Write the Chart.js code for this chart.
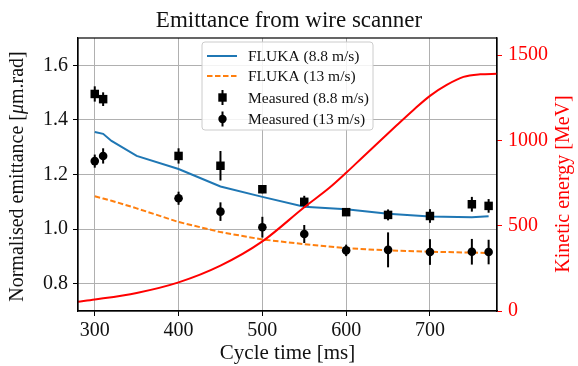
<!DOCTYPE html>
<html><head><meta charset="utf-8">
<script src="https://cdn.jsdelivr.net/npm/chart.js@4/dist/chart.umd.min.js"></script>
<style>html,body{margin:0;padding:0;background:#fff}</style>
</head><body>
<canvas id="c" width="578" height="366"></canvas>
<script>
// ---- data ----
const measTime = [300, 310, 400, 450, 500, 550, 600, 650, 700, 750, 770];
const meas88 = [1.495, 1.476, 1.268, 1.232, 1.146, 1.100, 1.062, 1.052, 1.048, 1.091, 1.085];
const err88  = [0.028, 0.025, 0.028, 0.054, 0.015, 0.022, 0.012, 0.020, 0.025, 0.027, 0.025];
const meas13 = [1.249, 1.268, 1.113, 1.064, 1.007, 0.982, 0.922, 0.924, 0.916, 0.917, 0.916];
const err13  = [0.024, 0.028, 0.024, 0.034, 0.038, 0.033, 0.021, 0.064, 0.047, 0.047, 0.045];

const flukaTime = [300, 310, 320, 350, 400, 450, 500, 550, 600, 650, 700, 750, 770];
const fluka88 = [1.356, 1.349, 1.323, 1.268, 1.220, 1.156, 1.118, 1.082, 1.073, 1.056, 1.046, 1.043, 1.047];
const fluka13 = [1.120, 1.112, 1.104, 1.076, 1.026, 0.989, 0.962, 0.945, 0.930, 0.922, 0.917, 0.914, 0.912];

const energyTime = [280, 300, 350, 400, 450, 500, 550, 580, 600, 620, 640, 660, 680, 700, 720, 740, 760, 780];
const energyMeV  = [54, 67, 106, 168, 266, 408, 608, 722, 810, 903, 995, 1087, 1177, 1261, 1325, 1372, 1387, 1390];

const xTicks = [300, 400, 500, 600, 700];
const yTicks = [0.8, 1.0, 1.2, 1.4, 1.6];
const y2Ticks = [0, 500, 1000, 1500];

const SERIF = '"Liberation Serif", "Times New Roman", serif';
const pts = (xs, ys) => xs.map((x, i) => ({x: x, y: ys[i]}));

const errs = {m88: err88, m13: err13};

const plugin = {
  id: 'custom',
  beforeDatasetDraw(chart, args) {
    const ds = chart.data.datasets[args.index];
    if (!ds.errKey) return;
    const e = errs[ds.errKey];
    const ctx = chart.ctx, xs = chart.scales.x, ys = chart.scales.y;
    ctx.save();
    ctx.strokeStyle = '#000';
    ctx.lineWidth = 2;
    ds.data.forEach((p, i) => {
      const px = xs.getPixelForValue(p.x);
      ctx.beginPath();
      ctx.moveTo(px, ys.getPixelForValue(p.y - e[i]));
      ctx.lineTo(px, ys.getPixelForValue(p.y + e[i]));
      ctx.stroke();
    });
    ctx.restore();
  },
  afterDraw(chart) {
    const ctx = chart.ctx, a = chart.chartArea;
    ctx.save();
    // frame
    ctx.strokeStyle = '#000';
    ctx.lineWidth = 1.2;
    ctx.strokeRect(a.left, a.top, a.right - a.left, a.bottom - a.top);

    // axis titles
    ctx.fillStyle = '#111';
    ctx.textBaseline = 'middle';
    ctx.font = '21px ' + SERIF;
    ctx.textAlign = 'center';
    ctx.fillText('Cycle time [ms]', (a.left + a.right) / 2, 353);

    // left title with italic mu
    const parts = [['Normalised emittance [', ''], ['\u03bc', 'italic '], ['m.rad]', '']];
    let total = 0;
    parts.forEach(p => { ctx.font = p[1] + '20px ' + SERIF; p.w = ctx.measureText(p[0]).width; total += p.w; });
    ctx.save();
    ctx.translate(18, (a.top + a.bottom) / 2 + 2);
    ctx.rotate(-Math.PI / 2);
    ctx.textAlign = 'left';
    let cx = -total / 2;
    parts.forEach(p => { ctx.font = p[1] + '20px ' + SERIF; ctx.fillText(p[0], cx, 0); cx += p.w; });
    ctx.restore();

    // right title
    ctx.save();
    ctx.fillStyle = '#ff0000';
    ctx.font = '20px ' + SERIF;
    ctx.translate(564, 184);
    ctx.rotate(-Math.PI / 2);
    ctx.textAlign = 'center';
    ctx.fillText('Kinetic energy [MeV]', 0, 0);
    ctx.restore();

    // legend
    const lx = 202, ly = 42, lw = 171, lh = 88;
    ctx.beginPath();
    if (ctx.roundRect) ctx.roundRect(lx, ly, lw, lh, 3); else ctx.rect(lx, ly, lw, lh);
    ctx.fillStyle = 'rgba(255,255,255,0.85)';
    ctx.fill();
    ctx.strokeStyle = '#cccccc';
    ctx.lineWidth = 1;
    ctx.stroke();
    const rows = [56, 76, 97.5, 119];
    const order = [0, 1, 2, 3];
    ctx.font = '15.5px ' + SERIF;
    ctx.textAlign = 'left';
    ctx.textBaseline = 'middle';
    order.forEach((di, r) => {
      const ds = chart.data.datasets[di];
      const y = rows[r];
      if (ds.showLine !== false) {
        ctx.save();
        ctx.strokeStyle = ds.borderColor;
        ctx.lineWidth = ds.borderWidth;
        ctx.setLineDash(ds.borderDash || []);
        ctx.beginPath(); ctx.moveTo(207, y); ctx.lineTo(237, y); ctx.stroke();
        ctx.restore();
      } else {
        ctx.save();
        ctx.strokeStyle = '#000'; ctx.lineWidth = 2;
        ctx.beginPath(); ctx.moveTo(222.5, y - 7.5); ctx.lineTo(222.5, y + 7.5); ctx.stroke();
        ctx.fillStyle = '#000';
        if (ds.pointStyle === 'rect') { ctx.fillRect(222.5 - 4.2, y - 4.2, 8.4, 8.4); }
        else { ctx.beginPath(); ctx.arc(222.5, y, 4.2, 0, Math.PI * 2); ctx.fill(); }
        ctx.restore();
      }
      ctx.fillStyle = '#111';
      ctx.fillText(ds.label, 248, y + 1);
    });
    ctx.restore();
  }
};

new Chart(document.getElementById('c'), {
  type: 'line',
  data: {
    datasets: [
      {label: 'FLUKA (8.8 m/s)', data: pts(flukaTime, fluka88), borderColor: '#1f77b4', borderWidth: 2, pointRadius: 0, fill: false, yAxisID: 'y', order: 4},
      {label: 'FLUKA (13 m/s)', data: pts(flukaTime, fluka13), borderColor: '#ff7f0e', borderWidth: 2, borderDash: [5.5, 2.5], pointRadius: 0, fill: false, yAxisID: 'y', order: 3},
      {label: 'Measured (8.8 m/s)', data: pts(measTime, meas88), showLine: false, pointStyle: 'rect', pointRadius: 6, backgroundColor: '#000', borderColor: '#000', borderWidth: 0, yAxisID: 'y', order: 2, errKey: 'm88'},
      {label: 'Measured (13 m/s)', data: pts(measTime, meas13), showLine: false, pointStyle: 'circle', pointRadius: 4.3, backgroundColor: '#000', borderColor: '#000', borderWidth: 0, yAxisID: 'y', order: 1, errKey: 'm13'},
      {label: 'Kinetic energy', data: pts(energyTime, energyMeV), borderColor: '#ff0000', borderWidth: 2, pointRadius: 0, fill: false, cubicInterpolationMode: 'monotone', yAxisID: 'y2', order: 0}
    ]
  },
  options: {
    responsive: false,
    animation: false,
    devicePixelRatio: 1,
    layout: {padding: 0},
    plugins: {
      legend: {display: false},
      tooltip: {enabled: false},
      title: {display: true, text: 'Emittance from wire scanner', color: '#111',
              font: {family: SERIF, size: 23, weight: 'normal', lineHeight: 1.2}, padding: {top: 7, bottom: 3.4}}
    },
    scales: {
      x: {
        type: 'linear', min: 280, max: 780,
        afterBuildTicks: s => { s.ticks = xTicks.map(v => ({value: v})); },
        afterFit: s => { s.height = 55; },
        grid: {color: '#b0b0b0', lineWidth: 1, tickColor: '#000', tickLength: 5, drawTicks: true},
        border: {color: '#000', width: 1.2},
        ticks: {color: '#111', font: {family: SERIF, size: 20}, padding: 3, maxRotation: 0}
      },
      y: {
        type: 'linear', position: 'left', min: 0.7, max: 1.7,
        afterBuildTicks: s => { s.ticks = yTicks.map(v => ({value: v})); },
        afterFit: s => { s.width = 78; },
        grid: {color: '#b0b0b0', lineWidth: 1, tickColor: '#000', tickLength: 5},
        border: {color: '#000', width: 1.2},
        ticks: {color: '#111', font: {family: SERIF, size: 20}, padding: 5, callback: v => v.toFixed(1)}
      },
      y2: {
        type: 'linear', position: 'right', min: 0, max: 1600,
        afterBuildTicks: s => { s.ticks = y2Ticks.map(v => ({value: v})); },
        afterFit: s => { s.width = 81; },
        grid: {drawOnChartArea: false, tickColor: '#ff0000', tickLength: 5},
        border: {color: '#000', width: 1.2},
        ticks: {color: '#ff0000', font: {family: SERIF, size: 20}, padding: 6, callback: v => String(v)}
      }
    }
  },
  plugins: [plugin]
});
</script>
</body></html>
